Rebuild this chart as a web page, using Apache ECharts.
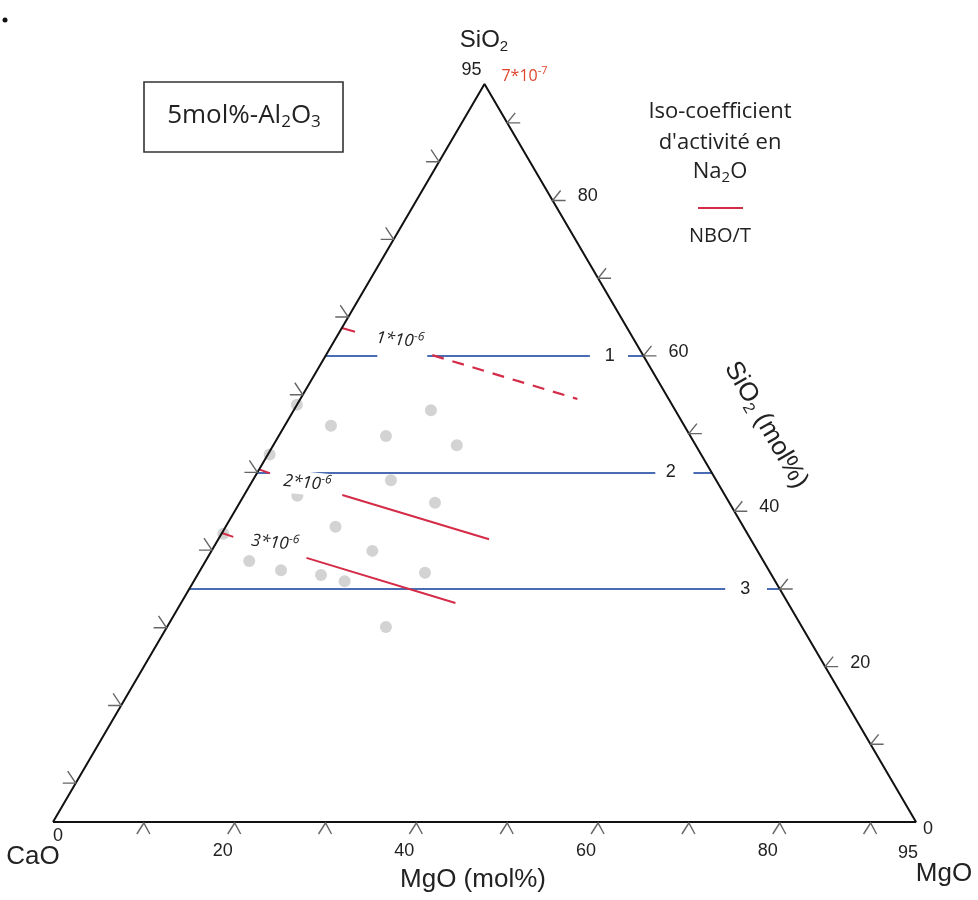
<!DOCTYPE html>
<html>
<head>
<meta charset="utf-8">
<script src="https://cdn.jsdelivr.net/npm/echarts@6.0.0/dist/echarts.min.js"></script>
<style>html,body{margin:0;padding:0;background:#fff}#c{width:978px;height:900px}</style>
</head>
<body>
<div id="c"></div>
<script>
// ===== DATA (ternary units, mol%; SiO2 + MgO + CaO = 95, Al2O3 fixed at 5) =====
const TOTAL = 95;
const mgoTicks = [10, 20, 30, 40, 50, 60, 70, 80, 90];
const sio2Ticks = [10, 20, 30, 40, 50, 60, 70, 80, 90];
const caoTicks = [10, 20, 30, 40, 50, 60, 70, 80, 90];
const mgoTickLabels = [0, 20, 40, 60, 80, 95];
const sio2TickLabels = [0, 20, 40, 60, 80, 95];

// NBO/T iso-lines (constant SiO2), visible MgO ranges
const nboValues = ['1', '2', '3'];
const nboSiO2 = [60, 45, 30];
const nboSegmentsMgO = [
  [[0, 5.7], [11.2, 29.1], [33.3, 35]],
  [[0, 1.4], [4.7, 43.8], [48.0, 50]],
  [[0, 59.0], [63.6, 65]]
];
const nboLabelMgO = [31.3, 45.5, 61.2];

// Na2O activity-coefficient iso-lines: segments as [[SiO2, MgO], [SiO2, MgO]]
const isoSolidSegments = [
  [[63.6, 0], [63.1, 1.7]],
  [[45.4, 0], [44.9, 1.4]],
  [[42.1, 10.8], [36.4, 29.8]],
  [[37.2, 0], [36.7, 1.5]],
  [[34.0, 10.9], [28.2, 30.2]]
];
const isoDashedSegments = [
  [[60.1, 11.7], [54.45, 30.5]]
];
const isoLabelText = ['1*10', '2*10', '3*10'];
const isoLabelExp = ['-6', '-6', '-6'];
const isoLabelSiO2 = [62.0, 43.6, 35.9];
const isoLabelMgO = [7.2, 6.2, 6.5];
const apexCoefText = '7*10';
const apexCoefExp = '-7';

// samples
const sampleSiO2 = [53.7, 53.0, 51.0, 49.7, 48.5, 47.3, 44.0, 42.0, 41.1, 38.0, 34.9, 37.1, 33.6, 32.4, 31.8, 31.0, 32.1, 25.1];
const sampleMgO  = [ 0.0, 15.1,  5.1, 11.8, 20.2,  0.2, 15.2,  5.9, 21.5, 12.1, 17.7,  0.2,  4.8,  8.9, 13.6, 16.6, 24.9, 24.1];

// ===== helpers =====
const H = Math.sqrt(3) / 2;
function tern(s, m) { return [m + s / 2, s * H]; }

const BLUE = '#4a6cb3';
const RED = '#d42b47';
const LABEL_FONT = '"Liberation Sans", Arial, sans-serif';
const TEXT_FONT = '"Open Sans", "Noto Sans", sans-serif';

// triangle outline
const triangle = [tern(0, 0), tern(0, TOTAL), tern(TOTAL, 0), tern(0, 0)];

// tick marks: kind 0 bottom (MgO), 1 right (SiO2), 2 left (CaO)
const tickData = [];
mgoTicks.forEach(v => { const p = tern(0, v); tickData.push([p[0], p[1], 0]); });
sio2Ticks.forEach(v => { const p = tern(v, TOTAL - v); tickData.push([p[0], p[1], 1]); });
caoTicks.forEach(v => { const p = tern(TOTAL - v, 0); tickData.push([p[0], p[1], 2]); });

// label items
const labelItems = [];
mgoTickLabels.forEach(v => {
  let dx = -12, dy = 29;
  if (v === 0) { dx = 5; dy = 14; }
  else if (v === TOTAL) { dx = -8; dy = 31; }
  labelItems.push({ p: tern(0, v), dx, dy, text: String(v), size: 18, align: 'center' });
});
sio2TickLabels.forEach(v => {
  let dx = 25, dy = -4, align = 'left';
  if (v === TOTAL) { dx = -13; dy = -14; align = 'center'; }
  else if (v === 0) { dx = 7; dy = 7; }
  labelItems.push({ p: tern(v, TOTAL - v), dx, dy, text: String(v), size: 18, align });
});
nboValues.forEach((t, i) => {
  labelItems.push({ p: tern(nboSiO2[i], nboLabelMgO[i]), dx: 0, dy: 0, text: t, size: 18, align: 'center' });
});
isoLabelText.forEach((t, i) => {
  labelItems.push({ p: tern(isoLabelSiO2[i], isoLabelMgO[i]), dx: 0, dy: 0, rich: true, fs: 17, es: 12,
    text: '{n|' + t + '}{e|' + isoLabelExp[i] + '}', color: '#222', italic: true, rot: -0.1, bg: '#fff' });
});
labelItems.push({ p: tern(TOTAL, 0), dx: 40, dy: -8, rich: true, fs: 16, es: 11,
  text: '{n|' + apexCoefText + '}{e|' + apexCoefExp + '}', color: '#e0452f', italic: false });

function segLines(segs) {
  return segs.map(sg => ({ coords: [tern(sg[0][0], sg[0][1]), tern(sg[1][0], sg[1][1])] }));
}
const nboLines = [];
nboSegmentsMgO.forEach((segs, i) => {
  segs.forEach(r => nboLines.push({ coords: [tern(nboSiO2[i], r[0]), tern(nboSiO2[i], r[1])] }));
});

const chart = echarts.init(document.getElementById('c'), null, { renderer: 'canvas' });

function sub(size, subSize, color, family) {
  return {
    n: { fontSize: size, fontFamily: family, fill: color, lineHeight: size + 4, verticalAlign: 'middle' },
    s: { fontSize: subSize, fontFamily: family, fill: color, lineHeight: subSize, verticalAlign: 'bottom' }
  };
}
const CENTER = { textAlign: 'center', align: 'center', textVerticalAlign: 'middle', verticalAlign: 'middle' };

const option = {
  animation: false,
  backgroundColor: '#ffffff',
  grid: { left: 53, right: 62, top: 84, bottom: 78, containLabel: false },
  xAxis: { type: 'value', min: 0, max: TOTAL, show: false },
  yAxis: { type: 'value', min: 0, max: TOTAL * H, show: false },
  series: [
    {
      type: 'scatter', z: 1, silent: true,
      data: sampleSiO2.map((s, i) => tern(s, sampleMgO[i])),
      symbol: 'circle', symbolSize: 12,
      itemStyle: { color: '#c8c8c8' }
    },
    {
      type: 'lines', coordinateSystem: 'cartesian2d', z: 2, silent: true,
      data: nboLines, lineStyle: { color: BLUE, width: 2, opacity: 1 }
    },
    {
      type: 'lines', coordinateSystem: 'cartesian2d', z: 2, silent: true,
      data: segLines(isoSolidSegments), lineStyle: { color: RED, width: 2, opacity: 1 }
    },
    {
      type: 'lines', coordinateSystem: 'cartesian2d', z: 2, silent: true,
      data: segLines(isoDashedSegments), lineStyle: { color: RED, width: 2.2, opacity: 1, type: [12, 9] }
    },
    {
      type: 'line', z: 3, silent: true, data: triangle, symbol: 'none',
      lineStyle: { color: '#111', width: 2 }
    },
    {
      type: 'custom', coordinateSystem: 'cartesian2d', z: 4, silent: true,
      data: tickData,
      renderItem: function (params, api) {
        const p = api.coord([api.value(0), api.value(1)]);
        const k = api.value(2);
        let pts;
        if (k === 0) pts = [[p[0] - 7, p[1] + 12], [p[0], p[1] + 1], [p[0] + 6, p[1] + 12]];
        else if (k === 1) pts = [[p[0] + 13, p[1]], [p[0], p[1]], [p[0] + 8, p[1] - 10]];
        else pts = [[p[0] - 13, p[1]], [p[0], p[1]], [p[0] - 8, p[1] - 12]];
        return { type: 'polyline', shape: { points: pts }, style: { stroke: '#666', lineWidth: 1.4, fill: null } };
      }
    },
    {
      type: 'custom', coordinateSystem: 'cartesian2d', z: 5, silent: true,
      data: labelItems.map(d => [d.p[0], d.p[1]]),
      renderItem: function (params, api) {
        const d = labelItems[params.dataIndex];
        const p = api.coord([api.value(0), api.value(1)]);
        const style = {
          text: d.text,
          textAlign: d.align || 'center', align: d.align || 'center',
          textVerticalAlign: 'middle', verticalAlign: 'middle'
        };
        if (d.rich) {
          style.rich = {
            n: { fontSize: d.fs, fontFamily: TEXT_FONT, fontStyle: d.italic ? 'italic' : 'normal', fill: d.color, lineHeight: d.fs + 6, verticalAlign: 'middle' },
            e: { fontSize: d.es, fontFamily: TEXT_FONT, fontStyle: d.italic ? 'italic' : 'normal', fill: d.color, lineHeight: d.es + 1, verticalAlign: 'top' }
          };
          if (d.bg) { style.backgroundColor = d.bg; style.padding = [0, 2]; }
        } else {
          style.font = d.size + 'px ' + LABEL_FONT;
          style.fill = '#222';
        }
        return { type: 'text', x: p[0] + d.dx, y: p[1] + d.dy, rotation: d.rot || 0, style };
      }
    }
  ],
  graphic: [
    { type: 'circle', shape: { cx: 5, cy: 20, r: 2.5 }, style: { fill: '#111' } },
    { type: 'text', x: 484, y: 40, style: Object.assign({ text: '{n|SiO}{s|2}', rich: sub(24, 15, '#222', LABEL_FONT) }, CENTER) },
    { type: 'rect', shape: { x: 144, y: 82, width: 199, height: 70 }, style: { fill: 'none', stroke: '#333', lineWidth: 1.6 } },
    { type: 'text', x: 244, y: 116, style: Object.assign({ text: '{n|5mol%-Al}{s|2}{n|O}{s|3}', rich: sub(26, 17, '#222', TEXT_FONT) }, CENTER) },
    { type: 'text', x: 720, y: 112, style: Object.assign({ text: 'Iso-coefficient', font: '22px ' + TEXT_FONT, fill: '#222' }, CENTER) },
    { type: 'text', x: 720, y: 143, style: Object.assign({ text: "d'activité en", font: '22px ' + TEXT_FONT, fill: '#222' }, CENTER) },
    { type: 'text', x: 720, y: 172, style: Object.assign({ text: '{n|Na}{s|2}{n|O}', rich: sub(22, 15, '#222', TEXT_FONT) }, CENTER) },
    { type: 'line', shape: { x1: 698, y1: 208, x2: 743, y2: 208 }, style: { stroke: RED, lineWidth: 2 } },
    { type: 'text', x: 720, y: 236, style: Object.assign({ text: 'NBO/T', font: '20px ' + TEXT_FONT, fill: '#222' }, CENTER) },
    { type: 'text', x: 766, y: 425, rotation: -Math.PI / 3, style: Object.assign({ text: '{n|SiO}{s|2}{n| (mol%)}', rich: sub(26, 16, '#222', LABEL_FONT) }, CENTER) },
    { type: 'text', x: 473, y: 880, style: Object.assign({ text: 'MgO (mol%)', font: '26px ' + LABEL_FONT, fill: '#222' }, CENTER) },
    { type: 'text', x: 33, y: 857, style: Object.assign({ text: 'CaO', font: '26px ' + LABEL_FONT, fill: '#222' }, CENTER) },
    { type: 'text', x: 944, y: 874, style: Object.assign({ text: 'MgO', font: '26px ' + LABEL_FONT, fill: '#222' }, CENTER) }
  ]
};
chart.setOption(option);
</script>
</body>
</html>
